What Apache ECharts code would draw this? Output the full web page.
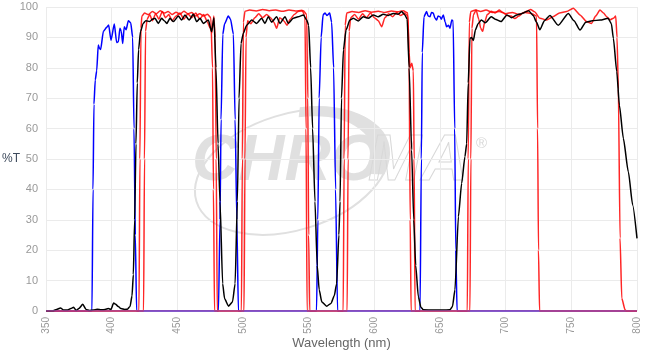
<!DOCTYPE html>
<html>
<head>
<meta charset="utf-8">
<script src="https://cdn.jsdelivr.net/npm/echarts@6/dist/echarts.min.js"></script>
<style>
  html, body { margin: 0; padding: 0; background: #fff; }
  #chart { width: 652px; height: 354px; }
</style>
</head>
<body>
<div id="chart"></div>
<script>
// axis ranges
const wlMin = 350, wlMax = 800, wlStep = 50;
const tMin = 0, tMax = 100, tStep = 10;

// exciter (blue) - [wavelength nm, %T]
const exciter = [
  [350, 0], [385, 0], [385.8, 40], [386.5, 68], [387.5, 76], [388.6, 79], [389.8, 87.5], [390.6, 86.5],
  [391.6, 86], [393.7, 92], [396.2, 93.3], [397.7, 94.1], [399.5, 89.1], [402, 94.4], [403.8, 88.3],
  [405.1, 88.6], [406.3, 93], [407.3, 92], [408.4, 88], [409.6, 93.5], [411, 92.5], [412.7, 95.5],
  [414.5, 94.8], [416, 90], [417, 60], [418, 25], [419, 0],
  [481.3, 0], [482.5, 30], [483.3, 63], [484.6, 91], [486, 94.5], [488.8, 97], [490.5, 96],
  [492.7, 91], [494, 63], [495.3, 30], [496.5, 0],
  [556, 0], [557, 30], [558, 70], [559.5, 90], [561, 97.5], [562.5, 98], [564, 97.2], [566, 98],
  [567.5, 95], [569, 80], [570.5, 40], [572, 0],
  [634.8, 0], [635.8, 50], [636.5, 85], [637.8, 96.8], [639.8, 98.5], [641, 97], [642.4, 96.8],
  [643.5, 98.2], [644.9, 98], [646, 96.5], [647.4, 95.7], [648.5, 97], [650, 96.8], [651, 96],
  [652.5, 97.4], [654, 95], [655, 93.5], [656.5, 94], [657.6, 93], [659, 95.7], [660, 95.5],
  [661.2, 60], [662, 20], [663, 0], [800, 0]
];

// dichroic (black)
const dichroic = [
  [350, 0], [355, 0], [358, 0.5], [361, 1.0], [363.5, 0.3], [366, 0.3], [369, 0.8], [371, 1.2],
  [373, 0.2], [375, 0.8], [378, 2.2], [380.5, 0.5], [383, 0.2], [386, 0.3], [389, 0.6], [392, 0.4],
  [395, 0.5], [397.5, 0.8], [399.5, 0.5], [401.5, 2.6], [403, 2.2], [405, 1.5], [407, 0.8], [410, 0.5],
  [412, 0.6], [414, 1.5], [415.5, 5], [416.5, 12], [417.5, 30], [418.5, 55], [419.5, 75], [420.5, 86],
  [422, 92], [424, 94.6], [426, 95.5], [429, 95.2], [431, 96], [433, 96.3], [435.5, 94.6], [438, 96.3],
  [440, 95.5], [442, 94.6], [444.4, 96.3], [447, 95.2], [450.8, 97], [453.3, 95.7], [455.8, 97.4],
  [459, 95.7], [462.2, 97.6], [464.7, 95.2], [467.3, 96.3], [469.8, 94.6], [473.6, 95.7], [476.1, 91.9],
  [477.9, 96.5], [479.4, 80], [481, 55], [482.5, 36], [484.5, 9], [486, 4], [489, 1.6], [492, 3],
  [494, 9], [495.7, 36], [497, 70], [498.5, 88], [500.2, 91.3], [502.8, 94], [506.6, 95.7],
  [510.4, 94.6], [514.2, 96.3], [516.7, 94.6], [519.3, 96.8], [521.8, 95], [525.6, 96.8], [528.1, 94.6],
  [532, 96.8], [534.5, 94.6], [538.3, 96.3], [542, 96.8], [546, 97.4], [548.5, 95.7], [550, 94],
  [551.5, 80], [553, 60], [554.8, 36], [556.5, 15], [558, 7], [560, 3], [563.7, 1.6], [567, 2.5],
  [569.5, 5], [571.3, 9], [573, 25], [573.9, 36], [575, 70], [576.5, 86], [578.5, 92.5], [581.4, 95.7],
  [584, 96.3], [587.8, 95.4], [591.6, 96.8], [595.4, 96.3], [599.2, 97.4], [603, 96.8], [606.8, 97.6],
  [610.6, 97.2], [614.4, 97.9], [618, 97.6], [620.8, 98.5], [623.3, 97.4], [625, 96], [626.5, 80],
  [628.4, 53], [630, 30], [631.5, 15], [633.5, 4.7], [635.5, 1.2], [637.3, 0.4], [645, 0.3],
  [652, 0.3], [657.6, 0.4], [659.5, 1.5], [661.4, 7], [664, 31], [666.5, 42], [669, 50.8],
  [670.3, 55], [671.5, 75], [672.8, 89.7], [674, 90], [675.4, 89], [677, 92.5], [679, 94.5],
  [681.5, 95.7], [684.5, 94.8], [689, 96.8], [692, 96], [696.5, 95.2], [701, 97.4], [704.5, 96.5],
  [708.5, 97.4], [712, 97.8], [717.5, 98.8], [721, 97.2], [723.5, 95], [726, 92.5], [729.5, 95.5],
  [733.7, 97.2], [740, 94], [747.7, 97.9], [752, 95.5], [756.6, 92.4], [761, 95], [766, 95.5],
  [772, 95.7], [778, 96.3], [780.5, 94.5], [782, 89.7], [784.6, 78.7], [786.6, 67.7], [789.6, 56.8],
  [793.4, 45.8], [796.7, 34.9], [800, 23.9]
];

// emitter A (red)
const emitterA = [
  [350, 0], [420.8, 0], [421.5, 50], [422.3, 93], [423, 97], [425, 98], [428, 97.5], [431, 98.5],
  [434, 97.8], [437, 98.8], [440, 98], [443, 98.5], [446, 97.5], [449, 98.3], [452, 97.6], [455, 98.6],
  [458, 97.8], [461, 98.2], [464, 97], [467, 97.8], [470, 97], [473, 97.6], [475.5, 96.5], [476.8, 80],
  [477.5, 40], [478.3, 0],
  [498.8, 0], [499.5, 50], [500.3, 95], [501.5, 98.6], [505, 99], [510, 98.7], [515, 99.2], [520, 98.8],
  [525, 99], [530, 98.6], [535, 99], [540, 98.7], [545, 98.9], [547.2, 97], [548, 60], [548.8, 0],
  [576.3, 0], [577, 50], [577.8, 94], [579, 98], [583, 98.5], [588, 98.2], [593, 98.8], [598, 98.3],
  [603, 98.6], [608, 98.2], [613, 98.7], [618, 98.4], [622, 98.8], [625.5, 98], [626.5, 80],
  [627.3, 30], [628, 0],
  [670.8, 0], [671.5, 50], [672.3, 95], [673.5, 98.5], [677, 99], [681, 98.5], [685, 99], [690, 98.2],
  [695, 98.5], [700, 97.8], [705, 98.2], [710, 97.6], [715, 98.2], [720, 97.8], [723.5, 97],
  [724.3, 60], [725, 20], [725.8, 0], [800, 0]
];

// emitter B (red)
const emitterB = [
  [350, 0], [424.3, 0], [425, 50], [425.8, 92], [427, 96], [429, 97.5], [431, 95.5], [433.5, 97.8],
  [436, 96], [438.5, 98.5], [441, 96.5], [443.5, 97.5], [446, 95.5], [449, 97], [452, 98], [455, 96],
  [458, 97.8], [461, 96.5], [464, 98], [467, 96], [470, 97.5], [473, 95], [475, 93], [476.3, 91.5],
  [477.8, 97], [478.8, 90], [479.6, 50], [480.4, 0],
  [500.8, 0], [501.5, 50], [502.3, 90], [503.5, 95.5], [506, 94.5], [509, 96.5], [512, 97.8],
  [515, 96.5], [518, 97.5], [521, 96.5], [523.5, 95], [525.6, 93], [528, 96.5], [531, 95.5],
  [533.5, 94], [536, 96], [539, 97.5], [542, 98.5], [546, 98.8], [548.5, 97.5], [549.3, 70],
  [550, 25], [550.8, 0],
  [579.3, 0], [580, 50], [580.8, 92], [582, 96.5], [585, 97.5], [588, 96], [591, 97.8], [594, 96.5],
  [597, 98], [600, 96.5], [603, 95.5], [605.6, 93.5], [608, 96.5], [611, 97.8], [614, 96.8],
  [617, 98.2], [620, 97.2], [623, 98], [625.5, 97], [626.5, 85], [627.2, 80], [628.5, 81.5],
  [629.7, 79], [630.3, 50], [631, 0],
  [672.8, 0], [673.5, 50], [674.3, 93], [675.5, 97.5], [677.5, 99], [679.5, 96], [681, 93],
  [682.5, 92], [684, 95], [686, 97.5], [689, 98.6], [692, 98], [695, 99], [698, 98.2], [701, 97.2],
  [704, 97], [707, 96.2], [710, 97], [713, 98], [716, 98.6], [719, 99.2], [722, 98.4], [726.1, 96.3],
  [731.2, 95.7], [736, 96.8], [741, 98], [746.4, 98.5], [751.5, 99.6], [756.6, 97.4], [761.6, 95.2],
  [765.4, 94.6], [768.5, 97], [771.8, 99], [774.5, 98], [776.9, 96.8], [779.5, 95.8], [782, 96.3],
  [783.8, 97], [784.8, 90], [785.8, 73], [787.1, 24], [788.4, 4.2], [790.9, 0.4], [792, 0], [800, 0]
];

// flat line along the floor
const floorLine = [[350, 0], [800, 0]];

const chart = echarts.init(document.getElementById('chart'), null, { renderer: 'canvas' });

function lineSeries(name, data, color, width, opacity, z) {
  return {
    name: name,
    type: 'line',
    data: data,
    showSymbol: false,
    symbol: 'none',
    smooth: 0.2,
    smoothMonotone: 'x',
    z: z,
    lineStyle: { color: color, width: width, opacity: opacity },
    emphasis: { disabled: true }
  };
}

const grey = '#e0e0e0';

const option = {
  animation: false,
  textStyle: { fontFamily: 'Liberation Sans, Arial, sans-serif' },
  grid: { left: 46, right: 15, top: 7, bottom: 43, containLabel: false, outerBoundsMode: 'none' },
  xAxis: {
    type: 'value',
    min: wlMin, max: wlMax, interval: wlStep,
    name: 'Wavelength (nm)',
    nameLocation: 'middle',
    nameGap: 26,
    nameMoveOverlap: false,
    nameTextStyle: { color: '#666', fontSize: 13 },
    axisLine: { show: false },
    axisTick: { show: false },
    axisLabel: { rotate: 90, color: '#999', fontSize: 10, margin: 6 },
    splitLine: { show: true, lineStyle: { color: '#ebebeb', width: 1 } }
  },
  yAxis: {
    type: 'value',
    min: tMin, max: tMax, interval: tStep,
    name: '%T',
    nameLocation: 'middle',
    nameGap: 26,
    nameRotate: 0,
    nameMoveOverlap: false,
    nameTextStyle: { color: '#3d4a5c', fontSize: 12, padding: [0, 0, 10, 0] },
    axisLine: { show: false },
    axisTick: { show: false },
    axisLabel: { color: '#999', fontSize: 11, margin: 8 },
    splitLine: { show: true, lineStyle: { color: '#ebebeb', width: 1 } }
  },
  graphic: [
    {
      type: 'ellipse', x: 292, y: 172, rotation: 0.3, z: -10, silent: true,
      shape: { cx: 0, cy: 0, rx: 100, ry: 58 },
      style: { fill: 'none', stroke: grey, lineWidth: 2 }
    },
    {
      type: 'arc', x: 292, y: 172, rotation: 0.3, z: -10, silent: true,
      shape: { cx: 0, cy: 0, r: 92, startAngle: -1.3, endAngle: 0.5 },
      scaleY: 0.62,
      style: { fill: 'none', stroke: grey, lineWidth: 12, strokeNoScale: true }
    },
    {
      type: 'text', x: 192, y: 130, z: -9, silent: true,
      style: { text: 'CHRO', font: 'italic bold 64px "Liberation Sans", Arial', fill: grey }
    },
    {
      type: 'text', x: 368, y: 130, z: -9, silent: true,
      style: { text: 'MA', font: 'italic bold 64px "Liberation Sans", Arial', fill: 'rgba(255,255,255,0)', stroke: '#d8d8d8', lineWidth: 1 }
    },
    {
      type: 'text', x: 476, y: 136, z: -9, silent: true,
      style: { text: '®', font: '15px "Liberation Sans", Arial', fill: '#d8d8d8' }
    }
  ],
  series: [
    lineSeries('Exciter', exciter, '#0000ff', 1.5, 1, 2),
    lineSeries('Emitter A', emitterA, '#ff0000', 1.5, 0.85, 3),
    lineSeries('Emitter B', emitterB, '#ff0000', 1.5, 0.85, 3),
    lineSeries('Dichroic', dichroic, '#000000', 1.5, 1, 4),
    lineSeries('Floor', floorLine, '#9c4fa8', 1.5, 1, 5)
  ]
};

chart.setOption(option);
</script>
</body>
</html>
